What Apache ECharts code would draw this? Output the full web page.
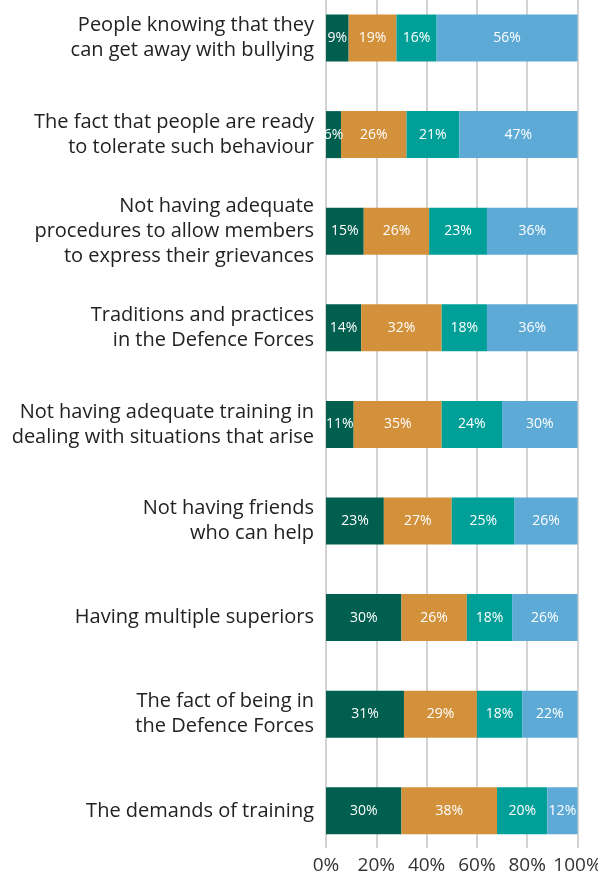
<!DOCTYPE html>
<html>
<head>
<meta charset="utf-8">
<script src="https://cdn.jsdelivr.net/npm/echarts@6/dist/echarts.min.js"></script>
<style>
html,body{margin:0;padding:0;background:#fff;}
#chart{width:598px;height:879px;}
</style>
</head>
<body>
<div id="chart"></div>
<script>
const categories = [
  "People knowing that they\ncan get away with bullying",
  "The fact that people are ready\nto tolerate such behaviour",
  "Not having adequate\nprocedures to allow members\nto express their grievances",
  "Traditions and practices\nin the Defence Forces",
  "Not having adequate training in\ndealing with situations that arise",
  "Not having friends\nwho can help",
  "Having multiple superiors",
  "The fact of being in\nthe Defence Forces",
  "The demands of training"
];
const seriesA = [9, 6, 15, 14, 11, 23, 30, 31, 30];
const seriesB = [19, 26, 26, 32, 35, 27, 26, 29, 38];
const seriesC = [16, 21, 23, 18, 24, 25, 18, 18, 20];
const seriesD = [56, 47, 36, 36, 30, 26, 26, 22, 12];
const xTicks = [0, 20, 40, 60, 80, 100];

const colors = ['#005F4F', '#D3913B', '#00A099', '#5DAAD7'];
const font = '"Open Sans", "Noto Sans", sans-serif';

function mk(name, data, color) {
  return {
    name: name, type: 'bar', stack: 'total', data: data,
    xAxisIndex: 0, yAxisIndex: 0,
    barWidth: 47,
    itemStyle: { color: color },
    label: {
      show: true, position: 'inside', color: '#fff',
      fontFamily: font, fontSize: 14,
      formatter: p => p.value + '%'
    }
  };
}

const chart = echarts.init(document.getElementById('chart'), null, {renderer: 'canvas'});
chart.setOption({
  animation: false,
  backgroundColor: '#fff',
  grid: [
    { left: 326, right: 20.5, top: -10.3, height: 869.4, containLabel: false, outerBoundsMode: 'none' },
    { left: 326, right: 20.5, top: 0, bottom: 31, containLabel: false, outerBoundsMode: 'none' }
  ],
  xAxis: [
    { type: 'value', gridIndex: 0, min: 0, max: 100, interval: 20, show: false },
    { type: 'value', gridIndex: 1, min: xTicks[0], max: xTicks[xTicks.length-1], interval: 20,
      axisLine: { show: false }, axisTick: { show: false },
      splitLine: { show: true, lineStyle: { color: '#d3d3d3', width: 2 } },
      axisLabel: { color: '#333', fontFamily: font, fontSize: 19, margin: 8,
        formatter: v => v + '%' } }
  ],
  yAxis: [
    { type: 'category', gridIndex: 0, data: categories, inverse: true,
      axisLine: { show: false }, axisTick: { show: false },
      axisLabel: { color: '#222', fontFamily: font, fontSize: 20, lineHeight: 25,
        margin: 12, align: 'right' } },
    { type: 'category', gridIndex: 1, data: categories, show: false }
  ],
  series: [
    mk('A', seriesA, colors[0]),
    mk('B', seriesB, colors[1]),
    mk('C', seriesC, colors[2]),
    mk('D', seriesD, colors[3])
  ]
});
</script>
</body>
</html>
